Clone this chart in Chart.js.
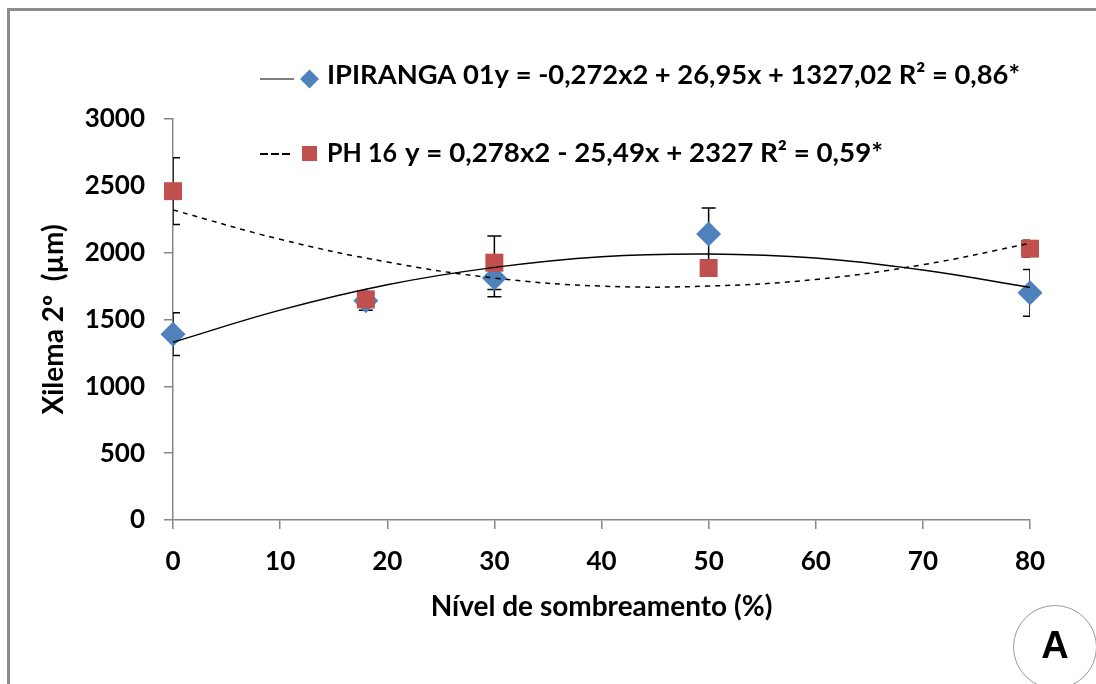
<!DOCTYPE html>
<html>
<head>
<meta charset="utf-8">
<script src="https://cdn.jsdelivr.net/npm/chart.js@4.4.1/dist/chart.umd.min.js"></script>
<style>
  html, body { margin: 0; padding: 0; background: #fff; overflow: hidden; }
  #wrap { position: relative; width: 1096px; height: 684px; overflow: hidden; }
  #marco { position: absolute; left: 7px; top: 8px; width: 1200px; height: 800px;
           border-left: 3px solid #8c8c8c; border-top: 3px solid #8c8c8c; }
  #lienzo { position: absolute; left: 0; top: 0; width: 1096px; height: 684px; }
  #letra { position: absolute; left: 1013px; top: 605px; width: 84px; height: 84px;
           border: 1px solid #9a9a9a; border-radius: 50%; box-sizing: border-box;
           display: flex; align-items: center; justify-content: center;
           font: bold 38px "Liberation Sans", Arial, sans-serif; color: #000; }
</style>
</head>
<body>
<div id="wrap">
  <div id="marco"></div>
  <div id="lienzo"><canvas id="grafico"></canvas></div>
  <div id="letra"><span style="margin-top:-4px">A</span></div>
</div>
<script>
/* =====================================================
   Xilema 2º vs nível de sombreamento
===================================================== */

const NIVEIS         = [0, 18, 30, 50, 80]
const IPIRANGA       = [1390, 1640, 1810, 2140, 1700]
const IPIRANGA_ERRO  = [160, 70, 140, 195, 175]
const PH16           = [2460, 1650, 1925, 1885, 2030]
const PH16_ERRO      = [250, 40, 200, 50, 62]

// curvas de tendência
const X_CURVA        = [0, 10, 20, 30, 40, 50, 60, 70, 80]
const CURVA_IPIRANGA = [1330, 1570, 1760, 1890, 1970, 1990, 1960, 1870, 1740]
const CURVA_PH16     = [2320, 2100, 1930, 1810, 1750, 1750, 1800, 1910, 2070]

const SERIES   = ["IPIRANGA 01", "PH 16"]
const EQUACOES = [
  "y = -0,272x2 + 26,95x + 1327,02 R² = 0,86*",
  "y = 0,278x2 - 25,49x + 2327 R² = 0,59*",
]

const AZUL = "#4F81BD"
const VERMELHO = "#C0504D"
const CINZA = "#868686"
const FONTE = "Lato, 'Open Sans', sans-serif"

const pares = (xs, ys) => xs.map((x, i) => ({ x, y: ys[i] }))

/* barras de erro (abaixo dos marcadores) */
const barrasErro = {
  id: "barrasErro",
  beforeDatasetsDraw(chart) {
    const { ctx, chartArea, scales: { x, y } } = chart
    ctx.save()
    Chart.helpers.clipArea(ctx, chartArea)
    ctx.strokeStyle = "#000"
    ctx.lineWidth = 1.5
    const grupos = [[IPIRANGA, IPIRANGA_ERRO], [PH16, PH16_ERRO]]
    grupos.forEach(([vals, erros]) => {
      NIVEIS.forEach((n, i) => {
        const px = x.getPixelForValue(n)
        const y1 = y.getPixelForValue(vals[i] + erros[i])
        const y2 = y.getPixelForValue(vals[i] - erros[i])
        ctx.beginPath()
        ctx.moveTo(px, y1); ctx.lineTo(px, y2)
        ctx.moveTo(px - 7, y1); ctx.lineTo(px + 7, y1)
        ctx.moveTo(px - 7, y2); ctx.lineTo(px + 7, y2)
        ctx.stroke()
      })
    })
    Chart.helpers.unclipArea(ctx)
    ctx.restore()
  }
}

// texto esticado até a largura pedida
function textoLargura(ctx, txt, x, y, largura) {
  const w = ctx.measureText(txt).width
  ctx.save()
  ctx.translate(x, y)
  ctx.scale(largura / w, 1)
  ctx.fillText(txt, 0, 0)
  ctx.restore()
}

/* legenda com as equações */
const legenda = {
  id: "legenda",
  afterDraw(chart) {
    const ctx = chart.ctx
    ctx.save()
    // linha 1
    ctx.strokeStyle = "#000"
    ctx.lineWidth = 1.2
    ctx.beginPath(); ctx.moveTo(260, 79); ctx.lineTo(294, 79); ctx.stroke()
    ctx.fillStyle = AZUL; ctx.strokeStyle = AZUL
    Chart.helpers.drawPoint(ctx, { pointStyle: "rectRot", radius: 9.5, borderWidth: 0 }, 309.5, 79)
    ctx.fillStyle = "#000"
    ctx.font = "bold 26px " + FONTE
    ctx.textBaseline = "alphabetic"
    textoLargura(ctx, SERIES[0] + EQUACOES[0], 327, 84, 693)

    // linha 2
    ctx.strokeStyle = "#000"
    ctx.lineWidth = 2.2
    ctx.setLineDash([8, 3])
    ctx.beginPath(); ctx.moveTo(260, 154); ctx.lineTo(290, 154); ctx.stroke()
    ctx.setLineDash([])
    ctx.fillStyle = VERMELHO; ctx.strokeStyle = VERMELHO
    Chart.helpers.drawPoint(ctx, { pointStyle: "rect", radius: 10.6, borderWidth: 0 }, 309.5, 153.5)
    ctx.fillStyle = "#000"
    textoLargura(ctx, SERIES[1], 327, 162, 70)
    textoLargura(ctx, EQUACOES[1], 405, 162, 478)
    ctx.restore()
  }
}

new Chart(document.getElementById("grafico"), {
  type: "scatter",
  data: {
    datasets: [
      {
        label: SERIES[0] + " tendência",
        data: pares(X_CURVA, CURVA_IPIRANGA),
        showLine: true,
        borderColor: "#000",
        borderWidth: 1.5,
        pointRadius: 0,
        tension: 0.4,
        clip: false,
        order: 0,
      },
      {
        label: SERIES[1] + " tendência",
        data: pares(X_CURVA, CURVA_PH16),
        showLine: true,
        borderColor: "#000",
        borderWidth: 1.5,
        borderDash: [5, 5],
        pointRadius: 0,
        tension: 0.4,
        clip: false,
        order: 0,
      },
      {
        label: SERIES[1],
        data: pares(NIVEIS, PH16),
        pointStyle: "rect",
        pointRadius: 12.7,
        backgroundColor: VERMELHO,
        borderColor: VERMELHO,
        borderWidth: 0,
        clip: false,
        order: 1,
      },
      {
        label: SERIES[0],
        data: pares(NIVEIS, IPIRANGA),
        pointStyle: "rectRot",
        pointRadius: 12.5,
        backgroundColor: AZUL,
        borderColor: AZUL,
        borderWidth: 0,
        clip: false,
        order: 2,
      },
    ]
  },
  options: {
    responsive: true,
    maintainAspectRatio: false,
    animation: false,
    layout: { padding: { left: 0, top: 119, right: 66, bottom: 0 } },
    plugins: { legend: { display: false }, tooltip: { enabled: false } },
    scales: {
      x: {
        type: "linear",
        min: 0, max: 80,
        afterFit: s => { s.height = 164 },
        ticks: { stepSize: 10, padding: 17, color: "#000", font: { family: FONTE, size: 26, weight: "bold" } },
        grid: { drawOnChartArea: false, drawTicks: true, tickLength: 9, color: CINZA, lineWidth: 1.5 },
        border: { color: CINZA, width: 1.5 },
        title: {
          display: true, text: "Nível de sombreamento (%)", color: "#000",
          font: { family: FONTE, size: 28, weight: "bold" }, padding: { bottom: 60 }
        }
      },
      y: {
        min: 0, max: 3000,
        afterFit: s => { s.width = 173 },
        ticks: {
          stepSize: 500, padding: 19, color: "#000",
          font: { family: FONTE, size: 26, weight: "bold" },
          callback: v => String(v)
        },
        grid: { drawOnChartArea: false, drawTicks: true, tickLength: 9, color: CINZA, lineWidth: 1.5 },
        border: { color: CINZA, width: 1.5 },
        title: {
          display: true, text: "Xilema 2º  (µm)", color: "#000",
          font: { family: FONTE, size: 28, weight: "bold" }, padding: { top: 37 }
        }
      }
    }
  },
  plugins: [barrasErro, legenda]
})
</script>
</body>
</html>
